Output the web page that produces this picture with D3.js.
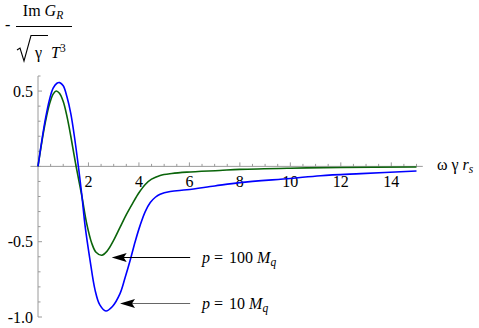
<!DOCTYPE html>
<html>
<head>
<meta charset="utf-8">
<script src="https://cdn.jsdelivr.net/npm/d3@7"></script>
<style>
  body { margin: 0; background: #fff; }
  svg { display: block; }
</style>
</head>
<body>
<svg id="chart" width="479" height="328"></svg>
<script>
// p = 10 M_q  (blue)
var p10X = [0, 0.15, 0.3, 0.45, 0.6, 0.75, 0.86, 1.0, 1.15, 1.3, 1.45, 1.6, 1.73, 1.87, 2.06, 2.26, 2.45, 2.69, 2.95, 3.25, 3.45, 3.65, 3.85, 4.05, 4.25, 4.45, 4.65, 4.84, 5.24, 5.9, 7, 8, 10, 11.2, 12.8, 15];
var p10Y = [0, 0.17, 0.32, 0.44, 0.52, 0.552, 0.556, 0.535, 0.46, 0.35, 0.19, 0, -0.18, -0.40, -0.62, -0.82, -0.92, -0.96, -0.93, -0.845, -0.74, -0.625, -0.50, -0.39, -0.30, -0.24, -0.205, -0.185, -0.167, -0.155, -0.13, -0.108, -0.08, -0.062, -0.048, -0.031];

// p = 100 M_q  (green)
var p100X = [0, 0.15, 0.3, 0.45, 0.6, 0.72, 0.85, 1.0, 1.15, 1.3, 1.51, 1.73, 1.93, 2.13, 2.3, 2.53, 2.75, 3.0, 3.25, 3.5, 3.75, 4.0, 4.25, 4.5, 4.84, 5.3, 5.9, 7.2, 8, 10, 12, 15];
var p100Y = [0, 0.16, 0.3, 0.41, 0.48, 0.5, 0.485, 0.43, 0.33, 0.2, 0, -0.19, -0.38, -0.51, -0.57, -0.59, -0.56, -0.49, -0.405, -0.32, -0.245, -0.175, -0.12, -0.085, -0.06, -0.047, -0.038, -0.027, -0.02, -0.012, -0.007, -0.004];

var xMajor = [2, 4, 6, 8, 10, 12, 14];
var yMajor = [0.5, -0.5, -1.0];
var yLabels = ["0.5", "-0.5", "-1.0"];

// annotation arrows: tip point and label mass
var noteTipX = [2.92, 3.25];
var noteTipY = [-0.60, -0.905];
var noteMass = ["100", "10"];

var serif = "'Liberation Serif', 'Times New Roman', Times, serif";
var fs = "16px", fsSub = "11.5px";

var svg = d3.select("#chart")
    .style("font-family", serif);

var x = d3.scaleLinear().domain([0, 15]).range([38, 416.5]);
var y = d3.scaleLinear().domain([-1, 0.6]).range([317, 76]);

var axisColor = "#9a9a9a";

function txt(sel) {
  return sel.append("text").style("font-family", serif).style("font-size", fs).attr("fill", "#000");
}

// x axis
var gx = svg.append("g");
gx.append("line")
    .attr("x1", x(-0.3)).attr("x2", x(15.25))
    .attr("y1", y(0)).attr("y2", y(0))
    .attr("stroke", axisColor);
gx.selectAll("line.minor").data(d3.range(0.5, 15.01, 0.5)).enter().append("line")
    .attr("class", "minor")
    .attr("x1", d => x(d)).attr("x2", d => x(d))
    .attr("y1", y(0)).attr("y2", d => y(0) - (d % 2 === 0 ? 4 : 2.5))
    .attr("stroke", axisColor);
xMajor.forEach(function(d) {
  txt(gx).attr("x", x(d)).attr("y", y(0) + 20.5)
      .attr("text-anchor", "middle")
      .text(d);
});

// y axis
var gy = svg.append("g");
gy.append("line")
    .attr("x1", x(0)).attr("x2", x(0))
    .attr("y1", y(0.6)).attr("y2", y(-1))
    .attr("stroke", axisColor);
gy.selectAll("line.minor").data(d3.range(-10, 7).map(d => d / 10)).enter().append("line")
    .attr("class", "minor")
    .attr("y1", d => y(d)).attr("y2", d => y(d))
    .attr("x1", x(0)).attr("x2", d => x(0) + (Math.abs(d * 10) % 5 === 0 && d !== 0 ? 4 : 2.5))
    .attr("stroke", axisColor);
yMajor.forEach(function(d, i) {
  txt(gy).attr("x", x(0) - 5).attr("y", y(d) + 5.5)
      .attr("text-anchor", "end")
      .text(yLabels[i]);
});

// curves
var line = d3.line()
    .x(d => x(d[0])).y(d => y(d[1]))
    .curve(d3.curveCatmullRom.alpha(0.5));

svg.append("path")
    .datum(p100X.map((v, i) => [v, p100Y[i]]))
    .attr("d", line)
    .attr("fill", "none").attr("stroke", "#0a640a").attr("stroke-width", 1.6);

svg.append("path")
    .datum(p10X.map((v, i) => [v, p10Y[i]]))
    .attr("d", line)
    .attr("fill", "none").attr("stroke", "#0000ff").attr("stroke-width", 1.6);

// arrows + labels
var tailX = 6.03;
noteTipX.forEach(function(tx, i) {
  var px = x(tx), py = Math.round(y(noteTipY[i])) + 0.5;
  var col = i === 0 ? "#000" : "#666";
  svg.append("line")
      .attr("x1", px + 8).attr("x2", x(tailX))
      .attr("y1", py).attr("y2", py)
      .attr("stroke", col).attr("stroke-width", 1);
  svg.append("path")
      .attr("d", `M${px},${py} L${px + 15},${py - 4.5} L${px + 12},${py} L${px + 15},${py + 4.5} Z`)
      .attr("fill", "#000");
  var t = txt(svg).attr("x", x(6.5)).attr("y", py + 5);
  t.append("tspan").style("font-style", "italic").text("p");
  t.append("tspan").attr("dx", 4).text("=");
  t.append("tspan").attr("dx", 6).text(noteMass[i]);
  t.append("tspan").attr("dx", 4).style("font-style", "italic").text("M");
  t.append("tspan").style("font-style", "italic").style("font-size", fsSub).attr("dy", 3).text("q");
});

// x axis label
var xl = txt(svg).attr("x", 437).attr("y", 170);
xl.append("tspan").text("ω γ ");
xl.append("tspan").style("font-style", "italic").text("r");
xl.append("tspan").style("font-style", "italic").style("font-size", fsSub).attr("dy", 3).text("s");

// y axis label (fraction)
txt(svg).attr("x", 5).attr("y", 30).text("-");
var num = txt(svg).attr("x", 43).attr("y", 16).attr("text-anchor", "middle");
num.append("tspan").text("Im ");
num.append("tspan").style("font-style", "italic").text("G");
num.append("tspan").style("font-style", "italic").style("font-size", fsSub).attr("dy", 3).text("R");
svg.append("line").attr("x1", 16).attr("x2", 72).attr("y1", 26.5).attr("y2", 26.5)
    .attr("stroke", "#000").attr("stroke-width", 1);
svg.append("path")
    .attr("d", "M17,50 L20,48 L24,61 L31,35.5 L48,35.5")
    .attr("fill", "none").attr("stroke", "#000").attr("stroke-width", 1.1);
txt(svg).attr("x", 35).attr("y", 58).text("γ");
var den = txt(svg).attr("x", 51).attr("y", 58);
den.append("tspan").style("font-style", "italic").text("T");
den.append("tspan").style("font-size", fsSub).attr("dy", -6).text("3");
</script>
</body>
</html>
